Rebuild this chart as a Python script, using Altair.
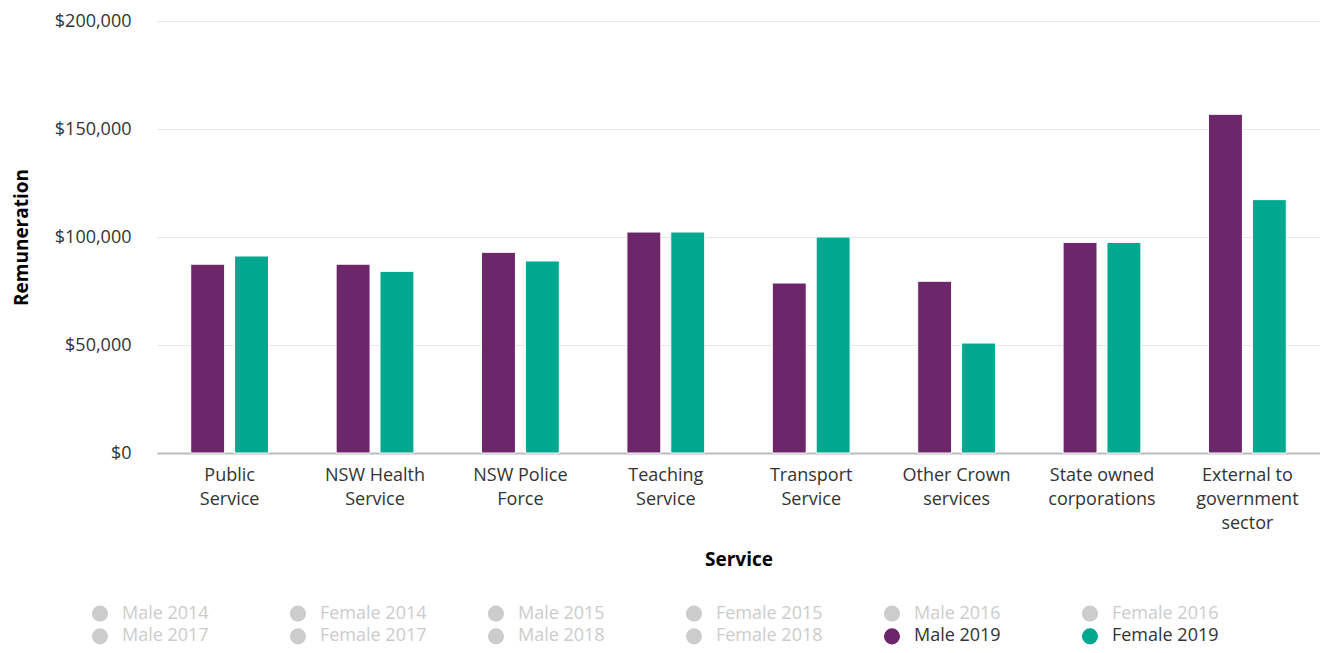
import altair as alt
import pandas as pd

services = [
    "Public|Service", "NSW Health|Service", "NSW Police|Force", "Teaching|Service",
    "Transport|Service", "Other Crown|services", "State owned|corporations",
    "External to|government|sector",
]
male_2019 = [87400, 87400, 92900, 102300, 78700, 79500, 97500, 156800]
female_2019 = [91200, 84100, 88900, 102300, 100000, 50900, 97500, 117300]

series_names = ["Male 2019", "Female 2019"]
series_colors = ["#6C2669", "#00A88F"]

legend_labels = [
    "Male 2014", "Female 2014", "Male 2015", "Female 2015", "Male 2016", "Female 2016",
    "Male 2017", "Female 2017", "Male 2018", "Female 2018", "Male 2019", "Female 2019",
]

FONT = "Open Sans"

rows = []
for s, m, f in zip(services, male_2019, female_2019):
    rows.append({"service": s, "series": "Male 2019", "value": m})
    rows.append({"service": s, "series": "Female 2019", "value": f})
df = pd.DataFrame(rows)

bars = alt.Chart(df).mark_bar(stroke="white", strokeWidth=1).encode(
    x=alt.X("service:N", sort=services,
            scale=alt.Scale(paddingInner=0.465, paddingOuter=0.232),
            axis=alt.Axis(title="Service", labelExpr="split(datum.label, '|')",
                          labelAngle=0, labelFontSize=18, labelColor="#333333",
                          labelLineHeight=24, labelPadding=13, ticks=False,
                          domainColor="#bbbbbb", domainWidth=2,
                          titleFontSize=19, titleFontWeight="bold", titleColor="#000000",
                          titlePadding=18, labelFont=FONT, titleFont=FONT)),
    xOffset=alt.XOffset("series:N", sort=series_names,
                        scale=alt.Scale(paddingInner=0.227, paddingOuter=0)),
    y=alt.Y("value:Q", scale=alt.Scale(domain=[0, 200000]),
            axis=alt.Axis(title="Remuneration", format="$,.0f", values=[0, 50000, 100000, 150000, 200000],
                          labelFontSize=18, labelColor="#333333", ticks=False, domain=False,
                          gridColor="#e6e6e6", labelPadding=26,
                          titleFontSize=19, titleFontWeight="bold", titleColor="#000000",
                          titlePadding=23, labelFont=FONT, titleFont=FONT)),
    color=alt.Color("series:N", scale=alt.Scale(domain=series_names, range=series_colors), legend=None),
).properties(width=1163, height=432)

leg_rows = []
for i, lab in enumerate(legend_labels):
    active = lab in series_names
    leg_rows.append({
        "label": lab,
        "col": i % 6,
        "row": i // 6,
        "sym": series_colors[series_names.index(lab)] if active else "#cccccc",
        "txt": "#333333" if active else "#cccccc",
    })
ldf = pd.DataFrame(leg_rows)

lbase = alt.Chart(ldf).encode(
    x=alt.X("col:Q", scale=alt.Scale(domain=[0.288, 5.288]), axis=None),
    y=alt.Y("row:Q", scale=alt.Scale(domain=[-0.25, 1.25], reverse=True), axis=None),
)
lsym = lbase.mark_circle(size=260, opacity=1).encode(color=alt.Color("sym:N", scale=None))
ltxt = lbase.mark_text(align="left", baseline="middle", dx=22, fontSize=18, font=FONT).encode(
    text="label:N", color=alt.Color("txt:N", scale=None))
legend = (lsym + ltxt).properties(width=990, height=34)

chart = alt.vconcat(bars, legend, spacing=35).configure(
    font=FONT, padding={"left": 4, "top": 4, "right": 0, "bottom": 0}
).configure_view(stroke=None)

chart.save("out.html", embed_options={"renderer": "svg", "actions": False})
